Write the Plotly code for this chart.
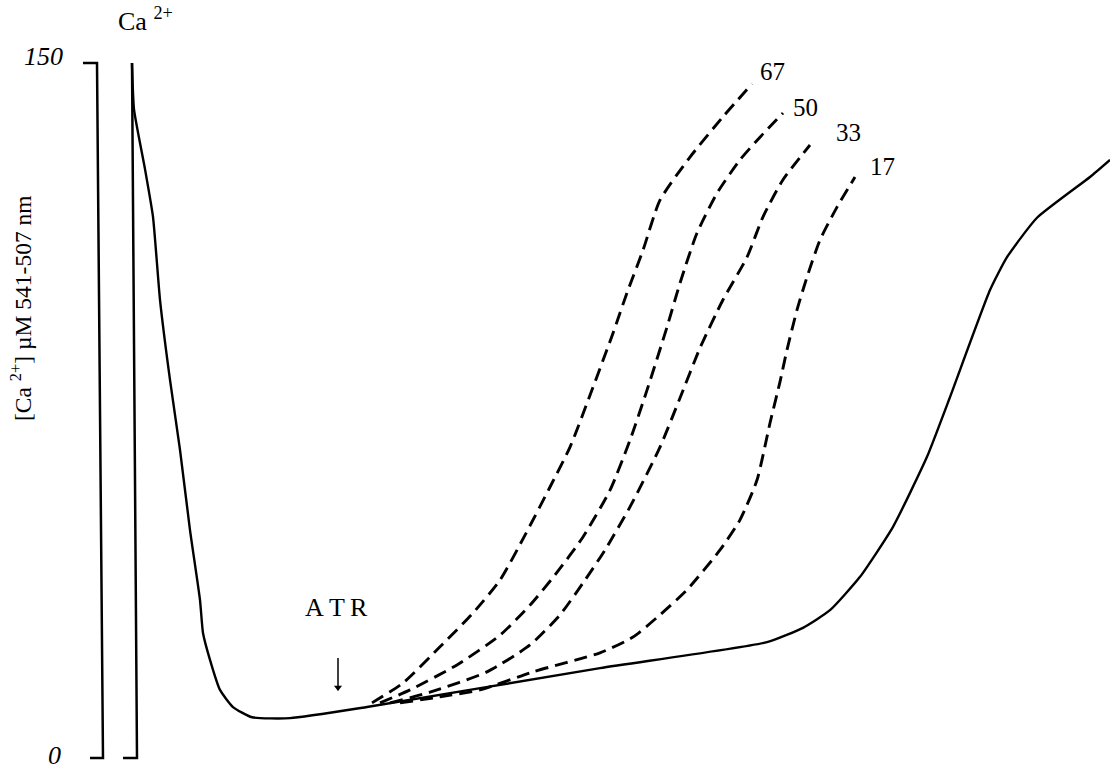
import plotly.graph_objects as go

# ---- data (time in s, [Ca2+] in uM) ----
main_t = [0, 1, 6.5, 10.5, 14, 19, 24, 29, 34, 35.5, 39, 44, 50.5, 60, 79, 117.5,
          234, 317.5, 335.5, 349, 364, 380.5, 397.5, 409, 429, 437.5, 452.5, 479, 489]
main_c = [150.0, 140.0, 127.1, 116.8, 98.9, 81.6, 66.5, 49.2, 34.1, 27.0, 21.2, 14.7, 11.0, 8.8, 8.6, 11.0,
          19.4, 25.0, 28.1, 31.9, 39.1, 49.9, 65.0, 77.9, 101.0, 108.1, 116.6, 125.4, 129.1]

atr67_t = [120, 135.5, 154, 170.5, 184, 196.5, 209, 219, 229, 240.5, 247.5, 255.5, 264, 279, 295.5, 310]
atr67_c = [11.9, 16.2, 24.0, 31.3, 38.4, 48.1, 58.5, 67.1, 78.3, 91.7, 100.4, 109.6, 120.4, 129.7, 138.4, 145.5]

atr50_t = [124, 139, 162.5, 184, 199, 211.5, 225.5, 239, 249, 257.5, 267.5, 274, 282.5, 292.5, 304, 314, 325.5]
atr50_c = [11.9, 14.7, 20.1, 26.5, 33.0, 39.5, 47.7, 57.8, 68.6, 79.4, 93.0, 102.5, 113.3, 121.9, 129.1, 134.0, 139.2]

atr33_t = [129, 149, 177.5, 199, 214, 226.5, 236.5, 249, 264, 274, 284, 295.5, 307.5, 315.5, 325.5, 339]
atr33_c = [11.9, 14.2, 18.6, 24.4, 30.9, 38.4, 44.9, 54.2, 67.1, 77.7, 88.5, 98.9, 108.1, 116.8, 124.8, 132.3]

atr17_t = [134, 154, 174, 200.5, 234, 250.5, 264, 277.5, 294, 304, 312.5, 319, 324, 327.5, 332.5, 337.5, 344, 352.5, 361.5]
atr17_c = [11.9, 13.2, 14.7, 18.6, 22.7, 26.1, 30.9, 36.3, 44.9, 51.4, 60.0, 72.3, 81.2, 88.1, 96.7, 103.8, 111.8, 118.9, 125.4]

dose_labels = ["67", "50", "33", "17"]

# scale bar (150 -> 0 uM) and Ca2+ addition marker
scale_t = [-24.5, -17.5, -14.5, -21]
scale_c = [150, 150, 0, 0]
ca_t = [0, 2.5, -4.5]
ca_c = [150, 0, 0]

atr_time = 103
atr_arrow_c = [21.6, 14.6]
scale_ticks = ["150", "0"]

SERIF = "Liberation Serif, Times New Roman, serif"

fig = go.Figure()
line_kw = dict(color="black", width=2.5)
fig.add_trace(go.Scatter(x=scale_t, y=scale_c, mode="lines", line=line_kw, hoverinfo="skip"))
fig.add_trace(go.Scatter(x=ca_t, y=ca_c, mode="lines", line=line_kw, hoverinfo="skip"))
fig.add_trace(go.Scatter(x=main_t, y=main_c, mode="lines",
                         line=dict(color="black", width=2.4, shape="spline", smoothing=0.5),
                         hoverinfo="skip"))

for tt, cc in [(atr67_t, atr67_c), (atr50_t, atr50_c), (atr33_t, atr33_c), (atr17_t, atr17_c)]:
    fig.add_trace(go.Scatter(x=tt, y=cc, mode="lines",
                             line=dict(color="black", width=2.9, dash="13px,7px",
                                       shape="spline", smoothing=0.6),
                             hoverinfo="skip"))

# ATR arrow (shaft + head)
fig.add_trace(go.Scatter(x=[atr_time, atr_time], y=atr_arrow_c, mode="lines",
                         line=dict(color="black", width=1.5), hoverinfo="skip"))
fig.add_trace(go.Scatter(x=[atr_time], y=[atr_arrow_c[1] + 0.6], mode="markers",
                         marker=dict(symbol="triangle-down", size=7, color="black"),
                         hoverinfo="skip"))

# dose labels at end of each dashed curve
label_pos = [(320, 148.1), (336.5, 140.5), (358, 135.1), (375, 127.6)]
for lab, (lx, ly) in zip(dose_labels, label_pos):
    fig.add_annotation(x=lx, y=ly, text=lab, showarrow=False,
                       font=dict(family=SERIF, size=25, color="black"))

# scale labels
fig.add_annotation(x=-44.5, y=151.3, text="<i>" + scale_ticks[0] + "</i>", showarrow=False,
                   font=dict(family=SERIF, size=26, color="black"))
fig.add_annotation(x=-39, y=0.6, text="<i>" + scale_ticks[1] + "</i>", showarrow=False,
                   font=dict(family=SERIF, size=26, color="black"))

# Ca2+ label
fig.add_annotation(x=6.5, y=159.5, text="Ca <sup>2+</sup>", showarrow=False,
                   font=dict(family=SERIF, size=26, color="black"))

# ATR label
fig.add_annotation(x=atr_time - 1, y=32.5, text="A\u2009T\u2009R", showarrow=False,
                   font=dict(family=SERIF, size=26, color="black"))

# y label
fig.add_annotation(xref="paper", yref="paper", x=21 / 1110, y=1 - 308 / 769,
                   xanchor="center", yanchor="middle",
                   text="[Ca <sup>2+</sup>] \u00b5M 541-507 nm", textangle=-90, showarrow=False,
                   font=dict(family=SERIF, size=23.5, color="black"))

fig.update_layout(
    width=1110, height=769,
    margin=dict(l=0, r=0, t=0, b=0),
    paper_bgcolor="white", plot_bgcolor="white",
    showlegend=False,
    xaxis=dict(visible=False, range=[-66, 489]),
    yaxis=dict(visible=False, range=[-2.37, 163.6]),
)

fig.write_html("out.html", post_script="document.body.style.margin='0';")
